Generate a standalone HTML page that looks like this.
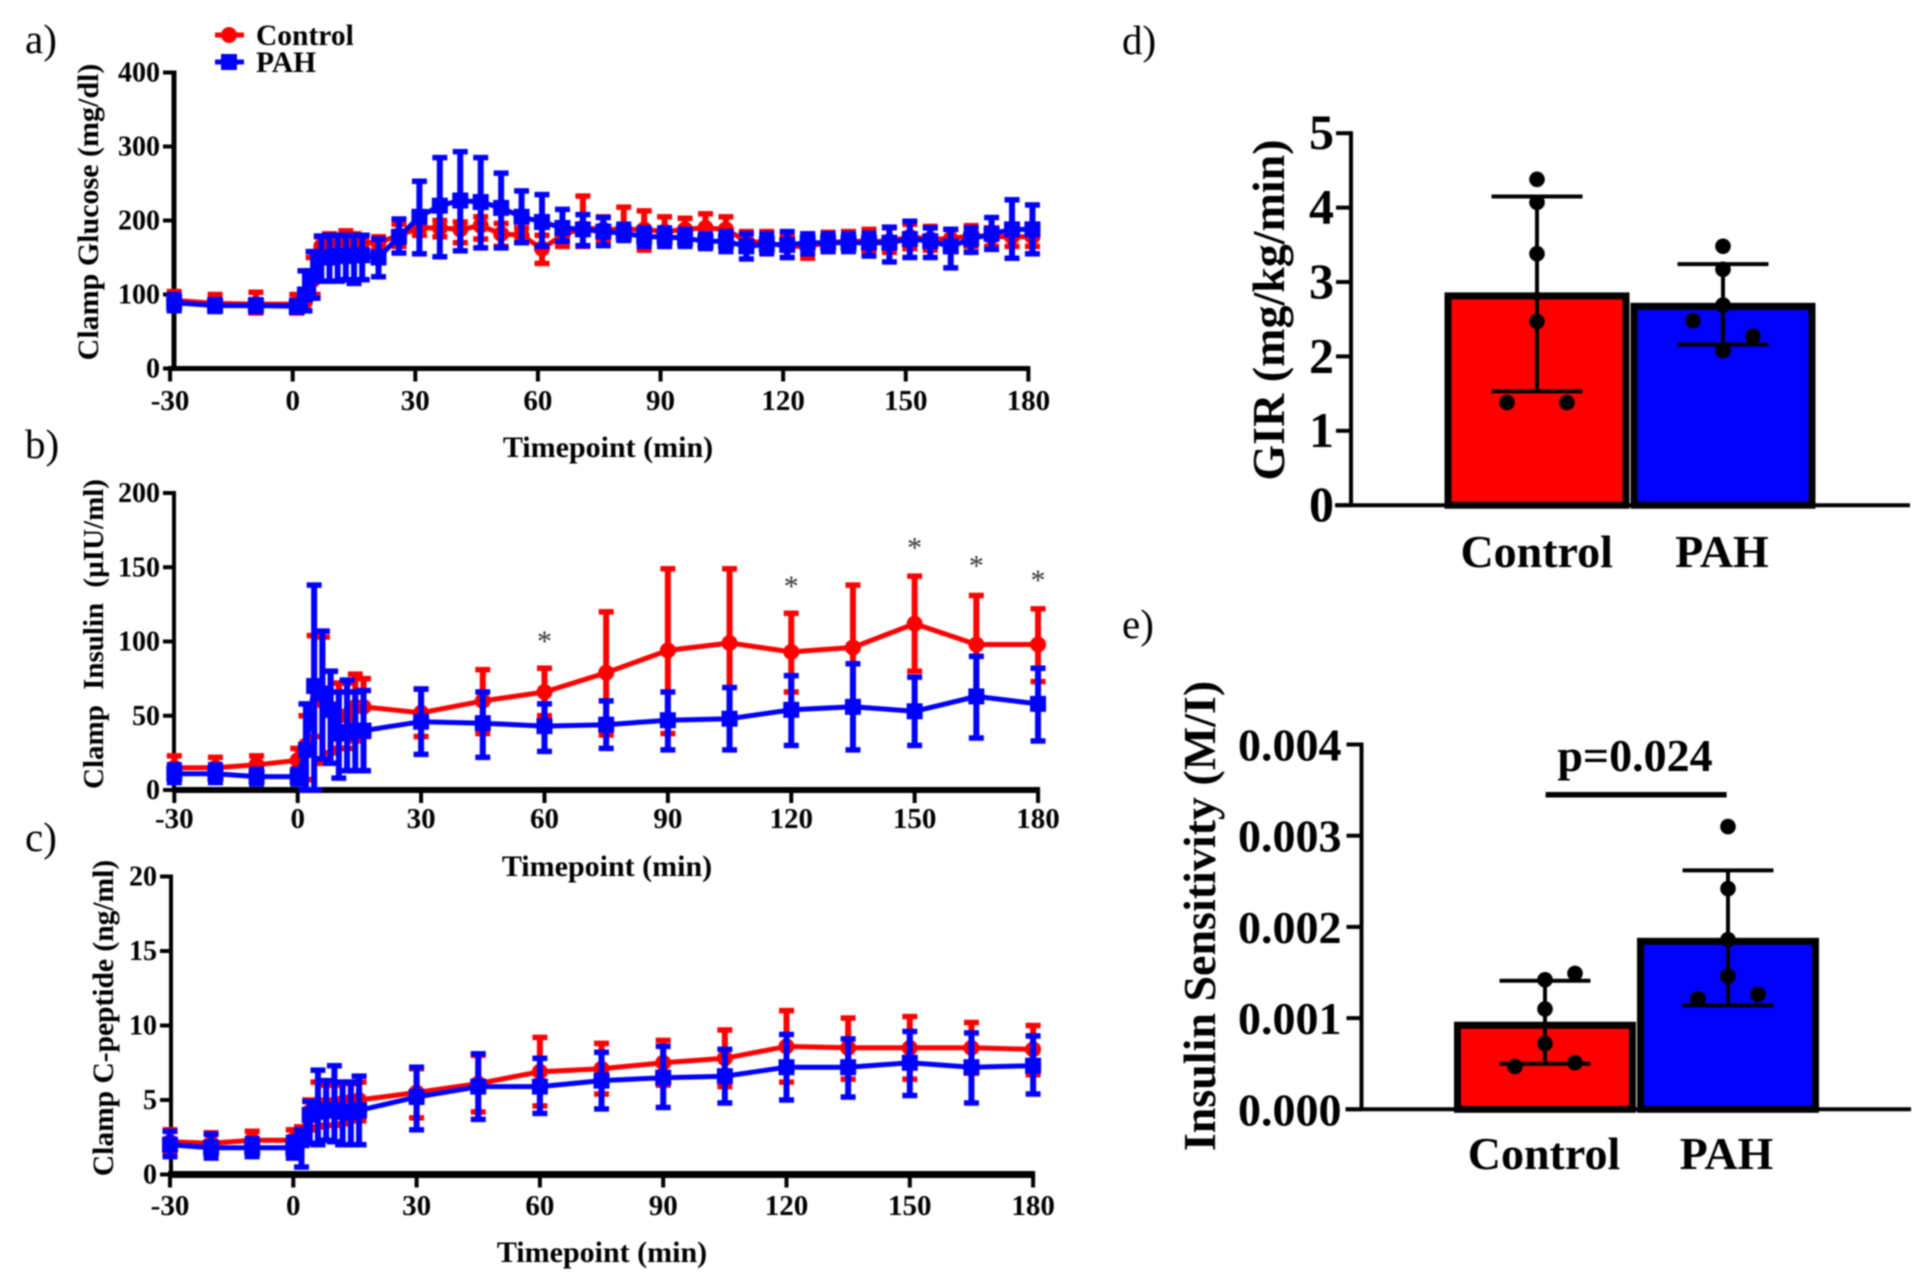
<!DOCTYPE html>
<html lang="en">
<head>
<meta charset="utf-8">
<title>Clamp study panels</title>
<style>
  html, body { margin: 0; padding: 0; background: #fff; }
  #figure { display: block; width: 1920px; height: 1275px; filter: blur(0.8px); font-family: "Liberation Serif", serif; }
  text { font-family: "Liberation Serif", serif; fill: #000; }
  .bold { font-weight: bold; }
</style>
</head>
<body>
<svg id="figure" xmlns="http://www.w3.org/2000/svg" width="1920" height="1275" viewBox="0 0 1920 1275">
  <rect x="0" y="0" width="1920" height="1275" fill="#fff"/>
  <text x="25" y="53" font-size="41">a)</text>
  <text x="25" y="458" font-size="41">b)</text>
  <text x="25" y="851" font-size="41">c)</text>
  <text x="1122" y="54" font-size="41">d)</text>
  <text x="1122" y="638" font-size="41">e)</text>

  <g>
    <g>
      <line x1="215" y1="35" x2="244" y2="35" stroke="#f00" stroke-width="5"/>
      <circle cx="229" cy="35" r="8" fill="#f00"/>
      <text x="256" y="45" font-size="29.5" class="bold">Control</text>
    </g>
    <g>
      <line x1="215" y1="62" x2="244" y2="62" stroke="#00f" stroke-width="5"/>
      <rect x="221" y="54" width="16" height="16" fill="#00f"/>
      <text x="256" y="72" font-size="29.5" class="bold">PAH</text>
    </g>
  </g>
</svg>

<script>
// ---------- Panel a: clamp glucose ----------
const glucoseTimes = [-29,-19,-9,1,3,5,7,9,11,13,15,17,21,26,31,36,41,46,51,56,61,66,71,76,81,86,91,96,101,106,111,116,121,126,131,136,141,146,151,156,161,166,171,176,181];
const glucoseControlMean = [92,88,87,87,90,120,165,168,170,172,170,170,170,180,190,190,188,193,182,180,162,180,190,188,188,188,185,188,190,188,172,170,165,165,170,172,172,172,178,175,175,180,178,178,178];
const glucoseControlUpper = [104,100,103,100,105,150,178,182,180,186,182,180,178,195,200,200,198,205,196,190,180,195,233,205,218,213,205,203,209,205,185,185,180,182,184,185,188,190,195,192,188,193,190,190,190];
const glucoseControlLower = [80,78,75,75,78,100,150,150,155,155,155,155,160,165,180,178,170,175,165,170,142,165,165,172,175,160,165,172,175,168,160,157,150,149,158,160,158,157,162,160,162,165,165,165,165];
const glucosePahMean = [89,85,85,84,100,125,150,150,152,152,153,153,150,178,205,220,227,225,217,205,198,190,188,185,183,178,178,176,172,172,165,168,167,170,170,170,170,170,175,172,165,175,182,188,188];
const glucosePahUpper = [100,93,93,92,132,158,179,180,180,180,180,180,175,202,253,285,293,285,264,240,235,215,208,204,195,190,190,188,182,185,182,182,185,182,182,182,183,191,199,190,188,190,204,228,221];
const glucosePahLower = [78,77,77,76,78,95,118,118,118,120,115,120,124,156,155,151,159,163,163,170,165,172,166,166,173,165,165,165,162,158,148,155,150,155,158,158,152,144,150,150,136,157,161,149,155];
const glucoseYTicks = [0,100,200,300,400];

// ---------- Panels b and c share sampling times ----------
const sampleTimes = [-30,-20,-10,0,2,4,6,8,10,12,14,16,30,45,60,75,90,105,120,135,150,165,180];
const timeTicks = [-30,0,30,60,90,120,150,180];

// ---------- Panel b: clamp insulin ----------
const insulinControlMean = [15,15,17,20,30,70,60,55,50,50,56,56,52,60,66,79,94,99,93,96,112,98,98];
const insulinControlUpper = [23,22,23,28,50,104,103,80,72,72,78,75,68,81,82,120,149,149,119,138,144,131,122];
const insulinControlLower = [8,8,10,12,7,36,18,25,28,28,33,36,36,38,50,37,38,49,66,55,80,65,73];
const insulinPahMean = [11,11,9,9,27,70,65,54,38,39,40,40,46,45,43,44,47,48,54,56,53,63,58];
const insulinPahUpper = [17,17,14,14,58,138,107,80,66,74,66,67,68,66,58,60,66,69,77,85,76,90,82];
const insulinPahLower = [5,5,4,4,0,0,21,18,8,13,13,13,24,22,26,28,27,27,30,27,30,35,33];
const insulinYTicks = [0,50,100,150,200];
const starTimes = [60,120,150,165,180];
const starLevels = [103,140,166,154,144];

// ---------- Panel c: clamp C-peptide ----------
const cpeptideControlMean = [2.2,2.1,2.3,2.3,2.8,4.2,4.7,4.7,4.7,4.8,4.9,5,5.5,6.1,6.9,7.1,7.5,7.8,8.6,8.5,8.5,8.5,8.4];
const cpeptideControlUpper = [3,2.8,2.9,3,3.2,5,6.2,6,6,6.2,6.1,6.2,7.1,8,9.2,8.8,9,9.7,11,10.5,10.6,10.2,10];
const cpeptideControlLower = [1.4,1.4,1.7,1.6,2.2,3,3.2,3.3,3.3,3.4,3.6,3.6,3.8,4.2,4.6,5.4,6,5.9,6.2,6.4,6.4,6.8,6.7];
const cpeptidePahMean = [2,1.8,1.8,1.8,2.3,4,4.2,4.3,4.3,4.2,4.2,4.3,5.2,5.9,5.9,6.3,6.5,6.6,7.2,7.2,7.5,7.2,7.3];
const cpeptidePahUpper = [2.9,2.7,2.4,2.5,3,4.9,7,6.3,7.3,6.2,6.2,6.6,7.2,8.1,7.8,8.2,8.6,8.4,9.4,9.1,9.6,9.5,9.3];
const cpeptidePahLower = [1.2,1.1,1.2,1.1,0.5,2.1,2,2.3,2.2,2,2,2,3,3.7,4.1,4.4,4.5,4.8,5,5.2,5.3,4.8,5.4];
const cpeptideYTicks = [0,5,10,15,20];

// ---------- Panel d: GIR ----------
const groupLabels = ['Control','PAH'];
const girMeans = [2.86,2.72];
const girUpper = [4.15,3.24];
const girLower = [1.53,2.16];
const girControlDots = [4.38,4.07,3.38,2.47,1.38,1.38];
const girControlJitter = [0,0,0,0,-1,1];
const girPahDots = [3.48,3.17,2.69,2.48,2.27,2.08];
const girPahJitter = [0,0,0,-1,1,0];
const girYTicks = [0,1,2,3,4,5];

// ---------- Panel e: insulin sensitivity ----------
const sensitivityMeans = [0.00096,0.00188];
const sensitivityUpper = [0.00141,0.00262];
const sensitivityLower = [0.0005,0.00114];
const sensitivityControlDots = [0.00149,0.00142,0.0011,0.00072,0.00047,0.00051];
const sensitivityControlJitter = [1,0,0,0,-1,1];
const sensitivityPahDots = [0.0031,0.00242,0.00186,0.00146,0.00121,0.00126];
const sensitivityPahJitter = [0,0,0,0,-1,1];
const sensitivityYTicks = [0,0.001,0.002,0.003,0.004];

const NS = 'http://www.w3.org/2000/svg';
const figure = document.getElementById('figure');

function make(tag, attrs, parent, content) {
  const node = document.createElementNS(NS, tag);
  for (const key in attrs) node.setAttribute(key, attrs[key]);
  if (content !== undefined) node.textContent = content;
  parent.appendChild(node);
  return node;
}

function drawSeries(parent, times, mean, upper, lower, color, shape, sx, sy, key) {
  const series = make('g', {}, parent);
  
  
  const pts = times.map((t, i) => sx(t).toFixed(1) + ',' + sy(mean[i]).toFixed(1)).join(' ');
  const path = make('polyline', { points: pts, fill: 'none', stroke: color, 'stroke-width': 5, 'stroke-linejoin': 'round' }, series);
  
  
  times.forEach((t, i) => {
    const x = sx(t);
    const stem = make('line', { x1: x, x2: x, y1: sy(upper[i]), y2: sy(lower[i]), stroke: color, 'stroke-width': 6 }, series);
    
    
    [upper[i], lower[i]].forEach(v => {
      const cap = make('line', { x1: x - 7.5, x2: x + 7.5, y1: sy(v), y2: sy(v), stroke: color, 'stroke-width': 5.5 }, series);
      
      
    });
    let marker;
    if (shape === 'circle') {
      marker = make('circle', { cx: x, cy: sy(mean[i]), r: 8, fill: color }, series);
    } else {
      marker = make('rect', { x: x - 8, y: sy(mean[i]) - 8, width: 16, height: 16, fill: color }, series);
    }
    
    
  });
}

function drawLinePanel(cfg) {
  const panel = make('g', {}, figure);
  
  
  const sx = t => cfg.x0 + t * cfg.kx;
  const sy = v => cfg.y0 - v * cfg.ky;
  const yMax = cfg.yTicks[cfg.yTicks.length - 1];

  const yAxis = make('line', { x1: cfg.axisX, x2: cfg.axisX, y1: sy(yMax) - 2, y2: cfg.y0, stroke: '#000', 'stroke-width': cfg.yWidth }, panel);
  
  
  const xAxis = make('line', { x1: sx(-30) - 2, x2: sx(180) + 2, y1: cfg.y0, y2: cfg.y0, stroke: '#000', 'stroke-width': cfg.xWidth }, panel);
  
  

  cfg.yTicks.forEach(v => {
    const tick = make('line', { x1: cfg.axisX - 11, x2: cfg.axisX, y1: sy(v), y2: sy(v), stroke: '#000', 'stroke-width': 4 }, panel);
    
    
    const label = make('text', { x: cfg.axisX - 14, y: sy(v) + 9, 'font-size': 28, 'text-anchor': 'end', class: 'bold' }, panel, String(v));
    
    
  });
  timeTicks.forEach(t => {
    const tick = make('line', { x1: sx(t), x2: sx(t), y1: cfg.y0, y2: cfg.y0 + 13, stroke: '#000', 'stroke-width': 4 }, panel);
    
    
    const label = make('text', { x: sx(t), y: cfg.tickBase, 'font-size': 29, 'text-anchor': 'middle', class: 'bold' }, panel, String(t));
    
    
  });

  const xTitle = make('text', { x: cfg.xTitleX, y: cfg.xTitleY, 'font-size': 30, 'text-anchor': 'middle', class: 'bold' }, panel, 'Timepoint (min)');
  
  
  const yTitle = make('text', { transform: 'translate(' + cfg.yTitleX + ',' + cfg.yTitleY + ') rotate(-90)', 'font-size': cfg.yTitleSize, 'text-anchor': 'middle', class: 'bold', style: 'word-spacing:' + cfg.wordGap + 'px' }, panel, cfg.yTitle);
  
  

  drawSeries(panel, cfg.times, cfg.cMean, cfg.cUp, cfg.cLow, '#f00', 'circle', sx, sy, cfg.key + '-control');
  drawSeries(panel, cfg.times, cfg.pMean, cfg.pUp, cfg.pLow, '#00f', 'square', sx, sy, cfg.key + '-pah');
  return { panel, sx, sy };
}

drawLinePanel({
  key: 'glucose', x0: 292.7, kx: 4.087, y0: 368.5, ky: 0.74, axisX: 174, yWidth: 5, xWidth: 5,
  yTicks: glucoseYTicks, tickBase: 410, xTitleX: 608, xTitleY: 457, yTitleX: 98, yTitleY: 212, yTitleSize: 30, wordGap: 0,
  yTitle: 'Clamp Glucose (mg/dl)', times: glucoseTimes,
  cMean: glucoseControlMean, cUp: glucoseControlUpper, cLow: glucoseControlLower,
  pMean: glucosePahMean, pUp: glucosePahUpper, pLow: glucosePahLower
});

const insulinPanel = drawLinePanel({
  key: 'insulin', x0: 297.7, kx: 4.113, y0: 790, ky: 1.485, axisX: 174, yWidth: 4, xWidth: 6,
  yTicks: insulinYTicks, tickBase: 828, xTitleX: 607, xTitleY: 876, yTitleX: 103, yTitleY: 634, yTitleSize: 29, wordGap: 8,
  yTitle: 'Clamp Insulin (\u00b5IU/ml)', times: sampleTimes,
  cMean: insulinControlMean, cUp: insulinControlUpper, cLow: insulinControlLower,
  pMean: insulinPahMean, pUp: insulinPahUpper, pLow: insulinPahLower
});
starTimes.forEach((t, i) => {
  const star = make('text', { x: insulinPanel.sx(t), y: insulinPanel.sy(starLevels[i]) + 14, 'font-size': 30, 'text-anchor': 'middle', style: 'fill:#333' }, insulinPanel.panel, '*');
  
  
});

drawLinePanel({
  key: 'cpeptide', x0: 293.3, kx: 4.11, y0: 1174.5, ky: 14.9, axisX: 171, yWidth: 4, xWidth: 7,
  yTicks: cpeptideYTicks, tickBase: 1215, xTitleX: 602, xTitleY: 1262, yTitleX: 113, yTitleY: 1018, yTitleSize: 29.5, wordGap: 0,
  yTitle: 'Clamp C-peptide (ng/ml)', times: sampleTimes,
  cMean: cpeptideControlMean, cUp: cpeptideControlUpper, cLow: cpeptideControlLower,
  pMean: cpeptidePahMean, pUp: cpeptidePahUpper, pLow: cpeptidePahLower
});

function drawBarPanel(cfg) {
  const panel = make('g', {}, figure);
  
  
  const sy = v => cfg.y0 - v * cfg.ky;
  const cx = i => cfg.c0 + i * cfg.step;
  const colors = ['#f00', '#00f'];
  const yMax = cfg.yTicks[cfg.yTicks.length - 1];

  groupLabels.forEach((name, i) => {
    const bar = make('rect', { x: cx(i) - cfg.half + 3.5, y: sy(cfg.means[i]) + 3.5, width: cfg.half * 2 - 7, height: cfg.y0 - sy(cfg.means[i]) - 3.5, fill: colors[i], stroke: '#000', 'stroke-width': 7 }, panel);
    
    
  });

  const yAxis = make('line', { x1: cfg.axisX, x2: cfg.axisX, y1: sy(yMax) - 2, y2: cfg.y0, stroke: '#000', 'stroke-width': 4 }, panel);
  
  
  const xAxis = make('line', { x1: cfg.axisX - 16, x2: cfg.xEnd, y1: cfg.y0, y2: cfg.y0, stroke: '#000', 'stroke-width': 4 }, panel);
  
  

  cfg.yTicks.forEach(v => {
    const tick = make('line', { x1: cfg.axisX - 15, x2: cfg.axisX, y1: sy(v), y2: sy(v), stroke: '#000', 'stroke-width': 4 }, panel);
    
    
    const label = make('text', { x: cfg.axisX - cfg.tickGap, y: sy(v) + 16, 'font-size': cfg.tickSize, 'text-anchor': 'end', class: 'bold' }, panel, cfg.format(v));
    
    
  });

  groupLabels.forEach((name, i) => {
    const x = cx(i);
    const stem = make('line', { x1: x, x2: x, y1: sy(cfg.upper[i]), y2: sy(cfg.lower[i]), stroke: '#000', 'stroke-width': 4 }, panel);
    
    
    [cfg.upper[i], cfg.lower[i]].forEach(v => {
      const cap = make('line', { x1: x - 45.5, x2: x + 45.5, y1: sy(v), y2: sy(v), stroke: '#000', 'stroke-width': 4 }, panel);
      
      
    });
    const dots = i === 0 ? cfg.controlDots : cfg.pahDots;
    const jitter = i === 0 ? cfg.controlJitter : cfg.pahJitter;
    dots.forEach((v, j) => {
      const dot = make('circle', { cx: x + jitter[j] * 30, cy: sy(v), r: 7.8, fill: '#000' }, panel);
      
      
    });
    const label = make('text', { x: cfg.labelX[i], y: cfg.labelY, 'font-size': 46, 'text-anchor': 'middle', class: 'bold' }, panel, name);
    
    
  });

  const title = make('text', { transform: 'translate(' + cfg.titleX + ',' + cfg.titleY + ') rotate(-90)', 'font-size': 46, 'text-anchor': 'middle', class: 'bold' }, panel, cfg.title);
  
  
  return panel;
}

drawBarPanel({
  key: 'gir', y0: 505.2, ky: 74.4, c0: 1537, step: 186, half: 92.5, axisX: 1351, xEnd: 1910,
  yTicks: girYTicks, tickSize: 50, tickGap: 17, format: v => String(v), means: girMeans, upper: girUpper, lower: girLower,
  controlDots: girControlDots, controlJitter: girControlJitter, pahDots: girPahDots, pahJitter: girPahJitter,
  labelX: [1536.7, 1722], labelY: 567, title: 'GIR (mg/kg/min)', titleX: 1284, titleY: 310
});

const sensitivityPanel = drawBarPanel({
  key: 'sensitivity', y0: 1109.3, ky: 91200, c0: 1545, step: 183, half: 91, axisX: 1361.5, xEnd: 1911,
  yTicks: sensitivityYTicks, tickSize: 46, tickGap: 20, format: v => v.toFixed(3), means: sensitivityMeans, upper: sensitivityUpper, lower: sensitivityLower,
  controlDots: sensitivityControlDots, controlJitter: sensitivityControlJitter, pahDots: sensitivityPahDots, pahJitter: sensitivityPahJitter,
  labelX: [1544, 1726.5], labelY: 1169, title: 'Insulin Sensitivity (M/I)', titleX: 1215, titleY: 916
});

const pBar = make('line', { x1: 1545.6, x2: 1726.6, y1: 794.7, y2: 794.7, stroke: '#000', 'stroke-width': 5.5 }, sensitivityPanel);


const pText = make('text', { x: 1635, y: 771, 'font-size': 46, 'text-anchor': 'middle', class: 'bold' }, sensitivityPanel, 'p=0.024');


</script>
</body>
</html>
